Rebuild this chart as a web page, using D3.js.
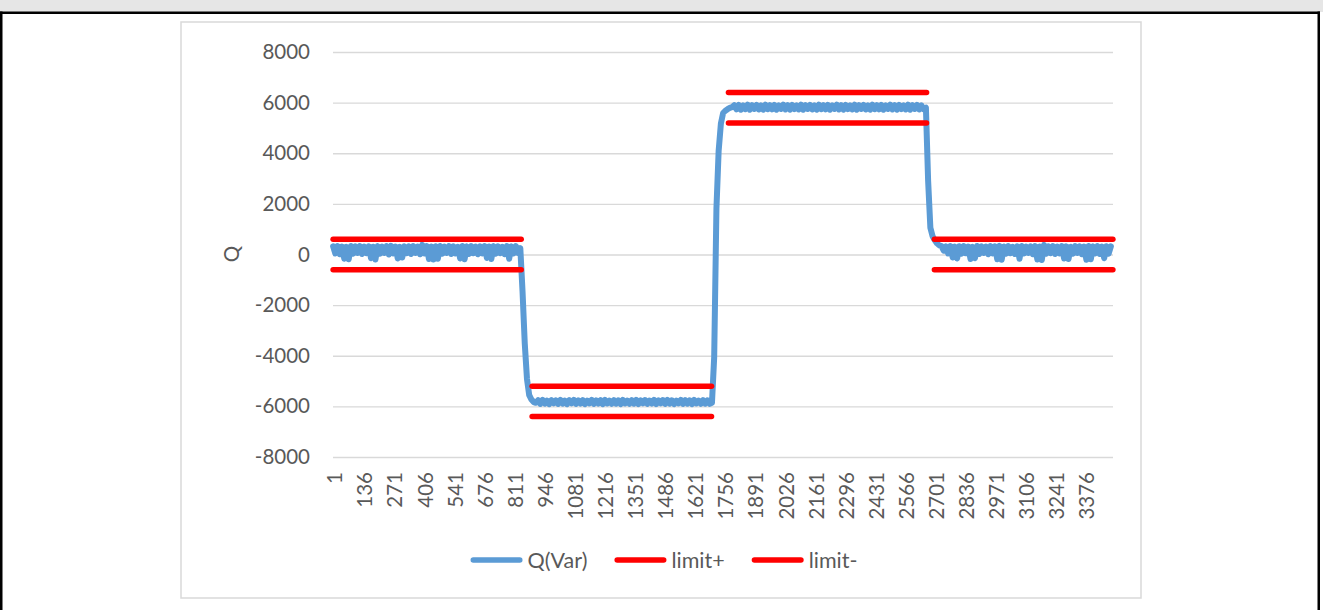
<!DOCTYPE html>
<html>
<head>
<meta charset="utf-8">
<script src="https://cdn.jsdelivr.net/npm/d3@7"></script>
<style>
  body { margin: 0; background: #fff; }
  svg text { font-family: Lato, "Open Sans", sans-serif; }
</style>
</head>
<body>
<svg id="chart" width="1323" height="610"></svg>
<script>
// ---- data ----
const sampleCount = 3500;
const qStep = 10;

const xTickLabels = [1, 136, 271, 406, 541, 676, 811, 946, 1081, 1216, 1351, 1486, 1621,
  1756, 1891, 2026, 2161, 2296, 2431, 2566, 2701, 2836, 2971, 3106, 3241, 3376];
const yTicks = [-8000, -6000, -4000, -2000, 0, 2000, 4000, 6000, 8000];

// Q(Var), read every 10th sample, split by section
const qZeroA = [
  320, 40, 330, 10, 310, -170, 300, -190, 335, 30,
  325, 60, 330, 20, 310, 50, 320, -150, 305, -200,
  330, 30, 315, 60, 330, 0, 340, 40, 315, -160,
  300, -120, 320, 50, 325, 20, 335, 60, 310, 10,
  380, 40, 330, -180, 315, -200, 325, -170, 335, 30,
  310, 60, 330, 20, 320, 40, 300, -160, 335, -190,
  320, 20, 330, 50, 310, 10, 325, 40, 335, -140,
  315, -180, 330, 30, 320, 50, 305, 10, 330, -170,
  320, 40, 335, 60, 250];
const qDrop = [-1470, -3520, -4920, -5560, -5730, -5830];
const qLow = [
  -5860, -5760, -5900, -5740, -5890, -5770, -5910, -5750, -5880, -5760,
  -5900, -5740, -5890, -5770, -5910, -5750, -5880, -5740, -5900, -5760,
  -5890, -5750, -5910, -5770, -5880, -5740, -5900, -5760, -5890, -5750,
  -5910, -5740, -5880, -5770, -5900, -5750, -5890, -5760, -5910, -5740,
  -5880, -5770, -5900, -5750, -5890, -5740, -5910, -5760, -5880, -5750,
  -5900, -5770, -5890, -5740, -5910, -5760, -5880, -5750, -5900, -5740,
  -5890, -5760, -5910, -5770, -5880, -5740, -5900, -5750, -5890, -5760,
  -5910, -5740, -5880, -5770, -5900, -5750, -5890, -5760, -5900, -5860];
const qRise = [-4050, 1800, 4100, 5170, 5590, 5680, 5740, 5790, 5820];
const qHigh = [
  5900, 5730, 5910, 5720, 5890, 5740, 5920, 5720, 5900, 5750,
  5910, 5730, 5890, 5720, 5920, 5740, 5900, 5730, 5910, 5720,
  5890, 5750, 5920, 5730, 5900, 5720, 5910, 5740, 5890, 5730,
  5920, 5720, 5900, 5750, 5910, 5730, 5890, 5720, 5920, 5740,
  5900, 5730, 5910, 5720, 5890, 5750, 5920, 5730, 5900, 5720,
  5910, 5740, 5890, 5730, 5920, 5720, 5900, 5750, 5910, 5730,
  5890, 5720, 5920, 5740, 5900, 5730, 5910, 5720, 5890, 5750,
  5920, 5730, 5900, 5720, 5910, 5740, 5890, 5730, 5920, 5720,
  5900, 5750, 5910, 5730, 5890, 5740, 5800];
const qFall = [2900, 1060, 720, 560, 440, 360];
const qZeroB = [
  330, 150, 320, 40, 335, -120, 310, -160, 325, 30,
  330, 50, 315, -180, 300, -150, 335, 20, 320, 60,
  310, 10, 330, 40, 325, -190, 340, -210, 315, 30,
  330, 50, 305, 20, 320, -170, 335, 40, 310, 60,
  325, 10, 330, -200, 315, -220, 380, 30, 320, 50,
  335, 20, 310, 40, 330, -160, 320, -180, 305, 30,
  330, 60, 325, 10, 315, -210, 335, -190, 320, 40,
  330, 20, 310, -150, 325, 30, 320];
const qSections = [qZeroA, qDrop, qLow, qRise, qHigh, qFall, qZeroB];
const qSectionStart = [1, 851, 911, 1711, 1801, 2671, 2731];

// limit+ / limit- : constant over four sample ranges
const limitStart = [1, 894, 1775, 2699];
const limitEnd = [845, 1699, 2664, 3500];
const limitPlus = [600, -5200, 6400, 600];
const limitMinus = [-600, -6400, 5200, -600];

const seriesNames = ["Q(Var)", "limit+", "limit-"];
const seriesColors = ["#5b9bd5", "#ff0000", "#ff0000"];

// ---- drawing ----
const svg = d3.select("#chart");
const textColor = "#595959";
const fontSize = 20.5;

// page frame
svg.append("rect").attr("x", 0).attr("y", 0).attr("width", 1323).attr("height", 12).attr("fill", "#e6e6e6");
svg.append("rect").attr("x", 0).attr("y", 11.5).attr("width", 1320).attr("height", 2.5).attr("fill", "#000");
svg.append("rect").attr("x", 0).attr("y", 11.5).attr("width", 2.5).attr("height", 600).attr("fill", "#000");
svg.append("rect").attr("x", 1317.5).attr("y", 11.5).attr("width", 2.5).attr("height", 600).attr("fill", "#000");

// chart box
svg.append("rect")
  .attr("x", 181).attr("y", 22).attr("width", 960).attr("height", 576)
  .attr("fill", "#fff").attr("stroke", "#d9d9d9").attr("stroke-width", 1.5);

const plot = { left: 333, right: 1113, top: 52, bottom: 457 };

const x = d3.scaleLinear().domain([0.5, sampleCount + 0.5]).range([plot.left, plot.right]);
const y = d3.scaleLinear().domain([-8000, 8000]).range([plot.bottom, plot.top]);

// y axis + gridlines
const yAxis = d3.axisLeft(y)
  .tickValues(yTicks)
  .tickSize(-(plot.right - plot.left))
  .tickPadding(23)
  .tickFormat(d => String(d));

const gy = svg.append("g")
  .attr("transform", `translate(${plot.left},0)`)
  .call(yAxis)
  .attr("font-family", null)
  .attr("font-size", fontSize);
gy.select(".domain").remove();
gy.selectAll(".tick line").attr("stroke", "#d9d9d9").attr("stroke-width", 1.3);
gy.selectAll(".tick text").attr("fill", textColor);

// x axis (category labels, rotated)
const xAxis = d3.axisBottom(x)
  .tickValues(xTickLabels)
  .tickSize(0)
  .tickPadding(0)
  .tickFormat(d => String(d));
const gx = svg.append("g")
  .attr("transform", `translate(0,${plot.bottom})`)
  .call(xAxis)
  .attr("font-family", null)
  .attr("font-size", fontSize);
gx.select(".domain").remove();
gx.selectAll(".tick text")
  .attr("fill", textColor)
  .attr("transform", "rotate(-90)")
  .attr("text-anchor", "end")
  .attr("x", -15)
  .attr("y", 1.5)
  .attr("dy", "0.35em");

// axis title
svg.append("text")
  .attr("transform", "translate(232,254) rotate(-90)")
  .attr("text-anchor", "middle")
  .attr("dy", "0.35em")
  .attr("font-size", fontSize)
  .attr("fill", textColor)
  .text("Q");

// series
const line = d3.line().x(d => x(d.s)).y(d => y(d.v));

const qData = [];
qSections.forEach((sec, k) => {
  sec.forEach((v, i) => qData.push({ s: qSectionStart[k] + i * qStep, v: v }));
});

svg.append("path")
  .datum(qData)
  .attr("fill", "none")
  .attr("stroke", seriesColors[0])
  .attr("stroke-width", 6)
  .attr("stroke-linejoin", "round")
  .attr("stroke-linecap", "round")
  .attr("d", line);

[limitPlus, limitMinus].forEach((vals, k) => {
  vals.forEach((v, i) => {
    svg.append("path")
      .datum([{ s: limitStart[i], v: v }, { s: limitEnd[i], v: v }])
      .attr("fill", "none")
      .attr("stroke", seriesColors[k + 1])
      .attr("stroke-width", 5.5)
      .attr("stroke-linecap", "round")
      .attr("d", line);
  });
});

// legend
const legend = svg.append("g");
let cx = 0;
seriesNames.forEach((name, i) => {
  const item = legend.append("g").attr("transform", `translate(${cx},0)`);
  item.append("line")
    .attr("x1", 2.75).attr("x2", 49.25).attr("y1", 0).attr("y2", 0)
    .attr("stroke", seriesColors[i]).attr("stroke-width", 5.5).attr("stroke-linecap", "round");
  const t = item.append("text")
    .attr("x", 57).attr("dy", "0.35em")
    .attr("font-size", 21.5).attr("fill", textColor)
    .text(name);
  cx += 57 + t.node().getComputedTextLength() + 27;
});
const legendWidth = cx - 27;
legend.attr("transform", `translate(${664 - legendWidth / 2},560)`);
</script>
</body>
</html>
